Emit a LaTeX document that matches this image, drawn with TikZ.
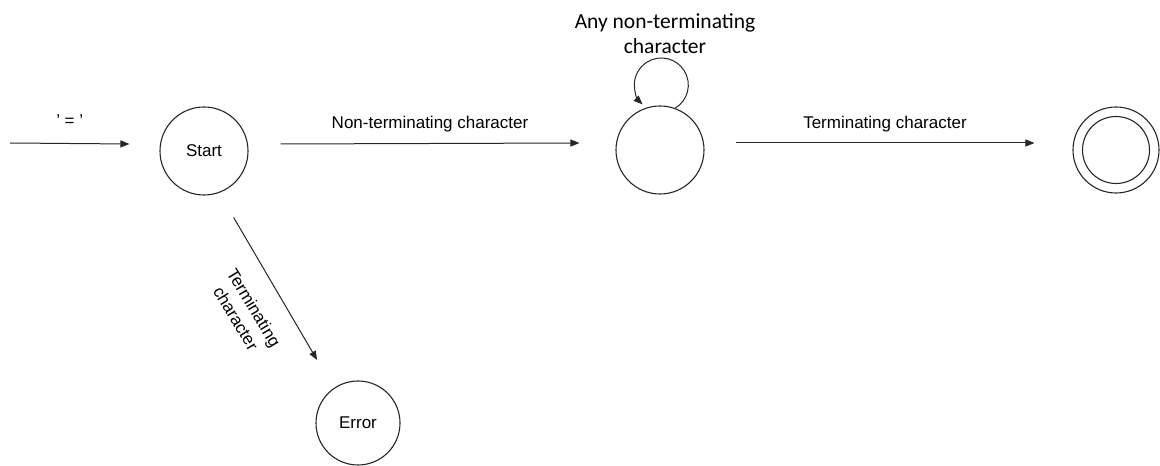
\documentclass[tikz,border=0pt]{standalone}
\usepackage{fontspec}
\setmainfont{Liberation Sans}
\newfontfamily\calibrifont{Carlito}
\usetikzlibrary{arrows.meta}
\begin{document}
\begin{tikzpicture}[x=1pt,y=1pt,
  state/.style={circle,draw=black!85,line width=1.1pt,minimum size=88pt,inner sep=0pt,font=\fontsize{17}{20}\selectfont},
  trans/.style={draw=black!85,line width=1pt,-{Triangle[length=9pt,width=7pt]}},
  lbl/.style={font=\fontsize{17}{21}\selectfont,inner sep=0pt,align=center}]
\useasboundingbox (0,0) rectangle (1160,466);

% states
\node[state] (s) at (204,315) {Start};
\node[state] (m) at (660,316) {};
\node[state,minimum size=86pt] (f) at (1116,316) {};
\node[circle,draw=black!85,line width=1.1pt,minimum size=67pt,inner sep=0pt] (fi) at (f.center) {};
\node[state,minimum size=84pt] (e) at (358,43) {Error};

% incoming arrow
\coordinate (in) at (10,323);
\draw[trans] (in) -- ([xshift=-30pt,yshift=7pt]s.west)
  node[lbl,midway,yshift=23pt] {' = '};

% transitions
\draw[trans] ([xshift=32pt,yshift=7pt]s.east) -- ([xshift=-36pt,yshift=7pt]m.west)
  node[lbl,midway,yshift=19pt] {Non-terminating character};
\draw[trans] ([xshift=31pt,yshift=7pt]m.east) -- ([xshift=-38pt,yshift=7pt]f.west)
  node[lbl,midway,yshift=19pt] {Terminating character};
\draw[trans,shorten <=28.5pt,shorten >=32.6pt] (s.-70) -- (e.125);
\node[lbl,rotate=-59] (el) at (245,153) {Terminating\\character};

% self loop
\draw[trans] (m.70) arc[start angle=-59,end angle=226,radius=27];
\node[lbl,font=\calibrifont\fontsize{21.5}{25}\selectfont] (ml) at (665,432) {Any non-terminating\\character};
\end{tikzpicture}
\end{document}
